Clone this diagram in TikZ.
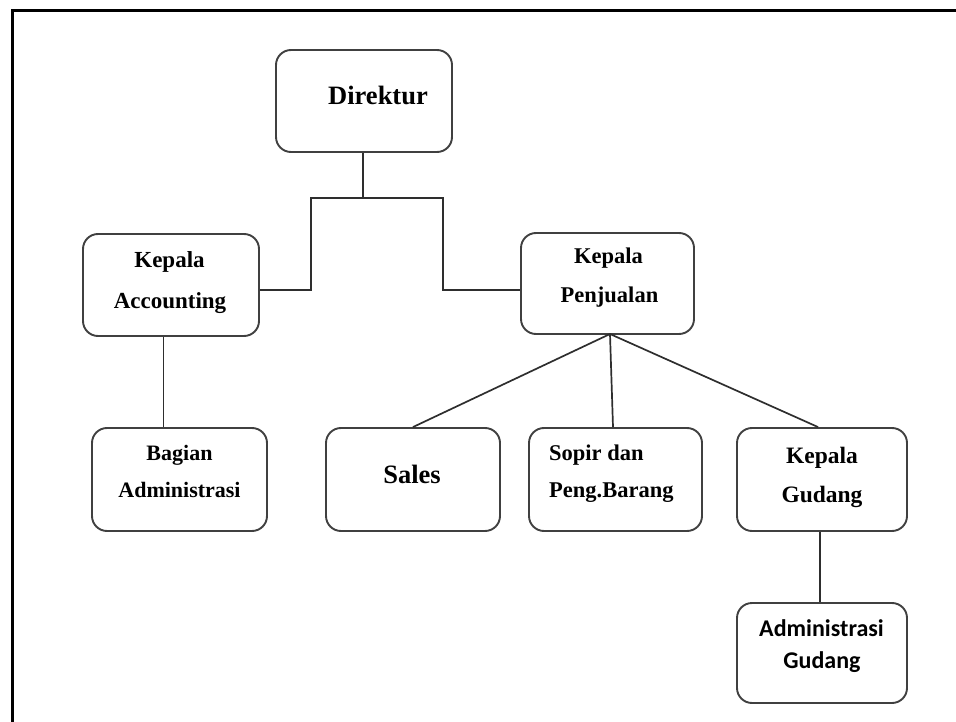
\documentclass[tikz,border=0pt]{standalone}
\usepackage{fontspec}
\setmainfont{Liberation Serif}
\newfontfamily\calibfont{Carlito}
\begin{document}
\begin{tikzpicture}[x=1pt,y=-1pt,
  box/.style={draw=black!75, line width=1.9pt, rounded corners=15pt, inner sep=0pt, fill=white},
  link/.style={draw=black!82, line width=1.7pt},
  lbl/.style={anchor=base, inner sep=0pt, font=\bfseries\fontsize{23}{28}\selectfont},
  biglbl/.style={anchor=base, inner sep=0pt, font=\bfseries\fontsize{26.5}{32}\selectfont},
  sanslbl/.style={anchor=base, inner sep=0pt, font=\calibfont\bfseries\fontsize{24}{29}\selectfont},
  leftlbl/.style={anchor=base west, inner sep=0pt, font=\bfseries\fontsize{22.5}{27}\selectfont}]
\useasboundingbox (0,0) rectangle (956,722);

% page frame (top and left edges)
\draw[line width=3pt, black] (12.5,722) -- (12.5,11) -- (956,11);

% boxes
\node[box, minimum width=176pt, minimum height=102pt] (dir) at (364,101) {};
\node[box, minimum width=176pt, minimum height=102pt] (acc) at (171,285) {};
\node[box, minimum width=173pt, minimum height=101pt] (pen) at (607.5,283.5) {};
\node[box, minimum width=175pt, minimum height=103pt] (bag) at (179.5,479.5) {};
\node[box, minimum width=174pt, minimum height=103pt] (sal) at (413,479.5) {};
\node[box, minimum width=173pt, minimum height=103pt] (sop) at (615.5,479.5) {};
\node[box, minimum width=170pt, minimum height=103pt] (gud) at (822,479.5) {};
\node[box, minimum width=170pt, minimum height=100pt] (adm) at (822,653) {};

% labels
\node[biglbl] (tdir) at (378,105) {Direktur};
\node[lbl] (tacc1) at (169.5,268) {Kepala};
\node[lbl] (tacc2) at (170,308) {Accounting};
\node[lbl, font=\bfseries\fontsize{22.5}{27}\selectfont] (tpen1) at (608.5,263) {Kepala};
\node[lbl, font=\bfseries\fontsize{22.5}{27}\selectfont] (tpen2) at (609.5,302) {Penjualan};
\node[lbl, font=\bfseries\fontsize{22}{27}\selectfont] (tbag1) at (179.5,460) {Bagian};
\node[lbl, font=\bfseries\fontsize{22}{27}\selectfont] (tbag2) at (179.5,497) {Administrasi};
\node[biglbl] (tsal) at (412,483) {Sales};
\node[leftlbl] (tsop1) at (549,460) {Sopir dan};
\node[leftlbl] (tsop2) at (549,497) {Peng.Barang};
\node[lbl, font=\bfseries\fontsize{23.5}{28}\selectfont] (tgud1) at (822,463) {Kepala};
\node[lbl, font=\bfseries\fontsize{23.5}{28}\selectfont] (tgud2) at (822,502) {Gudang};
\node[sanslbl] (tadm1) at (821.5,636) {Administrasi};
\node[sanslbl] (tadm2) at (822,668) {Gudang};

% connectors
\coordinate (j) at (363,198);
\coordinate (bl) at (311,290);
\coordinate (br) at (443,290);
\draw[link] (dir.south -| j) -- (j);
\draw[link] (bl -| acc.east) -- (bl) |- (j) -| (br) -- (br -| pen.west);

\coordinate (av) at (163.5,0);
\draw[link] (acc.south -| av) -- (bag.north -| av);

\coordinate (pb) at (610,334);
\draw[link] (pb) -- (sal.north);
\coordinate (sv) at (613,0);
\draw[link] (pb) -- (sop.north -| sv);
\coordinate (gv) at (818,0);
\draw[link] (pb) -- (gud.north -| gv);

\coordinate (gd) at (820,0);
\draw[link] (gud.south -| gd) -- (adm.north -| gd);
\end{tikzpicture}
\end{document}
